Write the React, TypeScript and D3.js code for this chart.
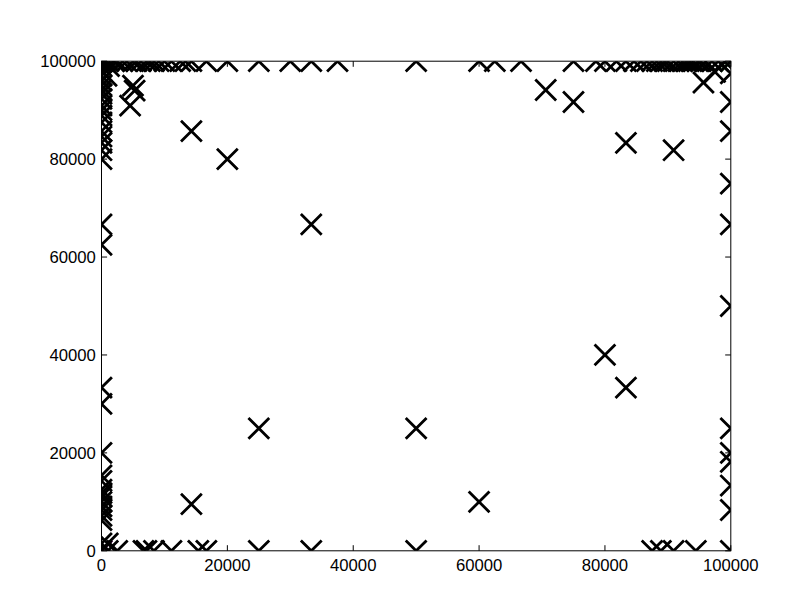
import React from 'react';
import * as d3 from 'd3';

// points well inside the axes
const innerX = [14286, 20000, 33333, 25000, 50000, 14286, 60000, 80000, 83333, 83333, 90909, 70588, 75000, 95652, 97500, 5000, 5263, 4545];
const innerY = [85714, 80000, 66667, 25000, 25000, 9524, 10000, 40000, 33333, 83333, 81818, 94118, 91667, 95652, 97800, 95000, 94000, 90909];

// points sitting on the top edge (y = 100000)
const topX = [0, 500, 1111, 2000, 2500, 3333, 4000, 5000, 5556, 6250, 7143, 7692, 8333, 9091, 10000, 11111, 12500, 13333, 14286,
  16667, 20000, 25000, 30000, 33333, 37500, 50000, 60000, 62500, 66667, 75000, 78571, 80000, 81818, 83333,
  84615, 85714, 86667, 87500, 88235, 88889, 89474, 90000, 90909, 91667, 92308, 92857, 93333, 93750, 94118, 94737, 95238,
  96000, 97000, 98000, 99000, 100000];

// points sitting on the bottom edge (y = 0)
const bottomX = [0, 1000, 2500, 6667, 7143, 8333, 11111, 15385, 16667, 25000, 33333, 50000, 87500, 88889, 90909, 94444, 100000];

// points sitting on the left edge (x = 0)
const leftY = [80000, 81818, 83333, 84615, 85714, 87500, 88889, 90000, 90909, 92308, 93333, 94118, 95000, 96000, 97000, 98000, 99000,
  66667, 62500, 33333, 30000, 20000,
  15385, 14286, 12500, 11765, 11111, 10000, 9091, 8333, 7143, 6250, 1500];

// points sitting on the right edge (x = 100000)
const rightY = [97500, 91667, 85714, 75000, 66667, 50000, 25000, 20000, 18182, 13333, 8333];

// a few points drawn slightly off the edges
const nearX = [1000, 800, 1200];
const nearY = [1500, 97000, 99000];

const X_TICKS = [0, 20000, 40000, 60000, 80000, 100000];
const Y_TICKS = [0, 20000, 40000, 60000, 80000, 100000];

const colored = [
  { x: 0, y: 100000, c: '#008000' },
  { x: 100000, y: 100000, c: '#008000' },
  { x: 0, y: 0, c: '#bf00bf' },
];

const W = 812;
const H = 612;
const left = 101.5, right = 730.8, top = 61.2, bottom = 550.8;

const App = () => {
  const x = d3.scaleLinear().domain([0, 100000]).range([left, right]);
  const y = d3.scaleLinear().domain([0, 100000]).range([bottom, top]);

  const pts: { x: number; y: number }[] = [];
  innerX.forEach((v, i) => pts.push({ x: v, y: innerY[i] }));
  topX.forEach(v => pts.push({ x: v, y: 100000 }));
  bottomX.forEach(v => pts.push({ x: v, y: 0 }));
  leftY.forEach(v => pts.push({ x: 0, y: v }));
  rightY.forEach(v => pts.push({ x: 100000, y: v }));
  nearX.forEach((v, i) => pts.push({ x: v, y: nearY[i] }));

  const h = 10.4;
  const mark = (cx: number, cy: number) =>
    `M${cx - h},${cy - h}L${cx + h},${cy + h}M${cx - h},${cy + h}L${cx + h},${cy - h}`;

  const tick = 5.6;
  const font = { fontFamily: '"Liberation Sans", Arial, sans-serif', fontSize: 16.7 };

  return (
    <svg width={W} height={H} style={{ position: 'absolute', left: 0, top: 0, background: '#fff' }}>
      <rect x={0} y={0} width={W} height={H} fill="#fff" />
      <defs>
        <clipPath id="plot">
          <rect x={left} y={top} width={right - left} height={bottom - top} />
        </clipPath>
      </defs>
      <g clipPath="url(#plot)">
        {colored.map((d, i) => (
          <path key={'c' + i} d={mark(x(d.x), y(d.y))} stroke={d.c} strokeWidth={2.8} fill="none" />
        ))}
        {pts.map((d, i) => (
          <path key={i} d={mark(x(d.x), y(d.y))} stroke="#000" strokeWidth={2.8} fill="none" />
        ))}
      </g>
      <rect x={left} y={top} width={right - left} height={bottom - top} fill="none" stroke="#000" strokeWidth={1} />
      {X_TICKS.map(t => (
        <g key={'x' + t}>
          <line x1={x(t)} x2={x(t)} y1={bottom} y2={bottom - tick} stroke="#000" strokeWidth={1} />
          <line x1={x(t)} x2={x(t)} y1={top} y2={top + tick} stroke="#000" strokeWidth={1} />
          <text x={x(t)} y={bottom + 20} textAnchor="middle" {...font}>{t}</text>
        </g>
      ))}
      {Y_TICKS.map(t => (
        <g key={'y' + t}>
          <line x1={left} x2={left + tick} y1={y(t)} y2={y(t)} stroke="#000" strokeWidth={1} />
          <line x1={right} x2={right - tick} y1={y(t)} y2={y(t)} stroke="#000" strokeWidth={1} />
          <text x={left - 5.6} y={y(t)} dy="0.35em" textAnchor="end" {...font}>{t}</text>
        </g>
      ))}
    </svg>
  );
};

export default App;
